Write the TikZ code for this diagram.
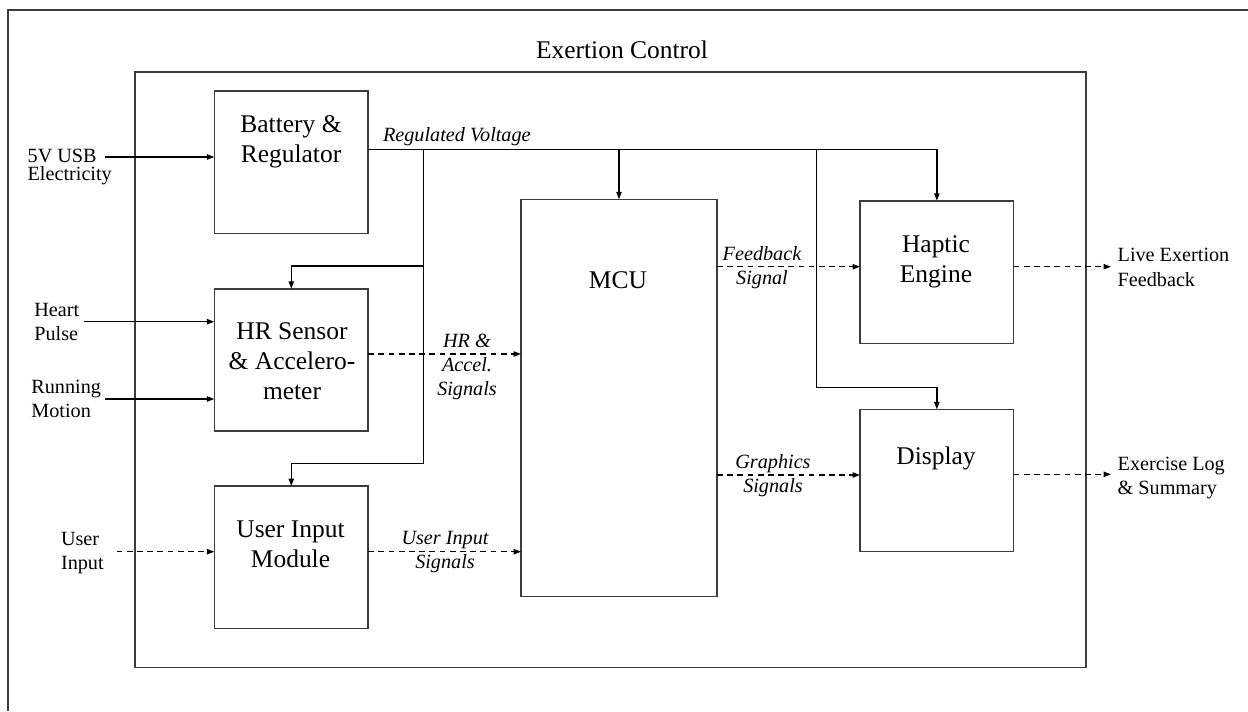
\documentclass[tikz,border=0pt]{standalone}
\usepackage{fontspec}
\setmainfont{Liberation Serif}
\usetikzlibrary{arrows.meta}
\definecolor{boxgray}{RGB}{60,60,60}
\begin{document}
\begin{tikzpicture}[x=0.02cm,y=-0.02cm,
  blk/.style={draw=boxgray, line width=0.9pt, inner sep=0pt, outer sep=0pt,
    minimum width=3.08cm, minimum height=2.85cm},
  bigtxt/.style={font=\fontsize{14.5}{17.1}\selectfont, align=center, inner sep=0pt,
    anchor=north, execute at begin node=\strut},
  smalltxt/.style={font=\fontsize{11.5}{13.7}\selectfont, align=left, inner sep=0pt,
    anchor=north west, execute at begin node=\strut},
  sigtxt/.style={font=\fontsize{11.5}{13.7}\selectfont\itshape, align=center, inner sep=0pt,
    anchor=north, execute at begin node=\strut},
  wire/.style={line width=0.75pt},
  arr/.style={wire, -{Triangle[length=4.2pt,width=3pt]}},
  dsh/.style={arr, dash pattern=on 3.3pt off 2.5pt}
]
\useasboundingbox (0,0) rectangle (1248,711);
% outer frame (cut by the page)
\draw[boxgray, line width=0.9pt] (8,711) -- (8,10) -- (1248,10);
% system box
\node[draw=boxgray, line width=0.9pt, inner sep=0pt, outer sep=0pt,
  minimum width=19.02cm, minimum height=11.92cm] (sys) at (610.5,369.7) {};
\node[bigtxt] (title) at (622,37.3) {Exertion Control};

% blocks
\node[blk, minimum height=2.854cm] (batt) at (291.3,162.35) {};
\node[blk, minimum height=2.846cm] (hr) at (291.3,359.85) {};
\node[blk, minimum height=2.846cm] (ui) at (291.3,557.15) {};
\node[blk, minimum width=3.92cm, minimum height=7.948cm] (mcu) at (619,398) {};
\node[blk, minimum width=3.074cm, minimum height=2.852cm] (hap) at (936.85,272) {};
\node[blk, minimum width=3.074cm, minimum height=2.848cm] (disp) at (936.85,480.5) {};

% block labels
\node[bigtxt] (battl) at (291,114.7) {Battery \&\\Regulator};
\node[bigtxt] (hrl) at (292,322.3) {HR Sensor\\\& Accelero-\\meter};
\node[bigtxt] (uil) at (290.5,520.7) {User Input\\Module};
\node[bigtxt] (mcul) at (618,267.3) {MCU};
\node[bigtxt] (hapl) at (936,235) {Haptic\\Engine};
\node[bigtxt] (displ) at (936,443.3) {Display};

% external inputs
\node[font=\fontsize{11.5}{10.2}\selectfont, align=left, inner sep=0pt, anchor=north west]
  (usbl) at (27.3,149.2) {5V USB\\Electricity};
\node[smalltxt] (heartl) at (34,303.2) {Heart\\Pulse};
\node[smalltxt] (runl) at (31,379.8) {Running\\Motion};
\node[smalltxt] (uinl) at (60.7,532.2) {User\\Input};
\node[smalltxt] (livel) at (1117.3,248.2) {Live Exertion\\Feedback};
\node[smalltxt] (logl) at (1117.3,456.5) {Exercise Log\\\& Summary};

\coordinate (usb) at (105.3,157);
\coordinate (heart) at (84,321.7);
\coordinate (run) at (105.3,399);
\coordinate (uin) at (116.7,551.7);
\draw[arr] (usb) -- (usb -| batt.west);
\draw[arr] (heart) -- (heart -| hr.west);
\draw[arr] (run) -- (run -| hr.west);
\draw[dsh] (uin) -- (uin -| ui.west);

% regulated voltage bus
\coordinate (busend) at (938.3,149.3);
\coordinate (trunk) at (423.3,149.3);
\coordinate (tap1) at (423.3,266);
\coordinate (tap2) at (423.3,463.3);
\coordinate (dtap) at (816.7,149.3);
\coordinate (dbend) at (816.7,387.3);
\draw[wire] (batt.east |- busend) -- (busend);
\node[sigtxt, anchor=north west] (regl) at (382.7,123.9) {Regulated Voltage};
\draw[arr] (hap.north |- busend) -- (hap.north);
\draw[arr] (mcu.north |- busend) -- (mcu.north);
\draw[arr] (trunk) -- (tap1) -| (hr.north);
\draw[arr] (tap1) -- (tap2) -| (ui.north);
\draw[arr] (dtap) -- (dbend) -| (disp.north);

% signals
\coordinate (hrs) at (0,354);
\coordinate (uis) at (0,551.7);
\coordinate (fbs) at (0,266.7);
\coordinate (gfs) at (0,475);
\coordinate (live) at (1111,266.7);
\coordinate (log) at (1111,474.3);
\draw[dsh] (hr.east |- hrs) -- (mcu.west |- hrs);
\draw[dsh] (ui.east |- uis) -- (mcu.west |- uis);
\draw[dsh] (mcu.east |- fbs) -- (hap.west |- fbs);
\draw[dsh] (mcu.east |- gfs) -- (disp.west |- gfs);
\draw[dsh] (hap.east |- live) -- (live);
\draw[dsh] (disp.east |- log) -- (log);

\node[sigtxt] (hrsl) at (467,333.9) {HR \&\\Accel.\\Signals};
\node[sigtxt] (uisl) at (445,530.9) {User Input\\Signals};
\node[sigtxt] (fbsl) at (762,246.5) {Feedback\\Signal};
\node[sigtxt] (gfsl) at (773,453.9) {Graphics\\Signals};
\end{tikzpicture}
\end{document}
